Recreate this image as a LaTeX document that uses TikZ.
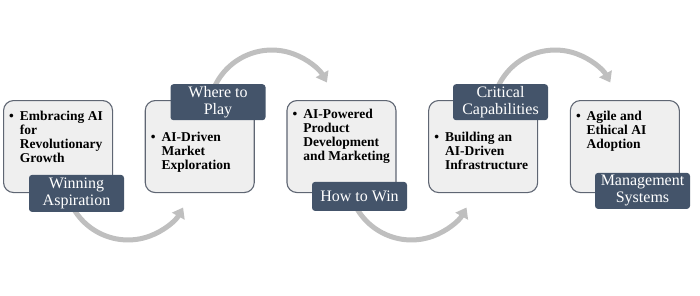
\documentclass[tikz,border=0pt]{standalone}
\usepackage{fontspec}
\setmainfont{Liberation Serif}
\usetikzlibrary{arrows.meta}
\definecolor{slate}{HTML}{44546A}
\definecolor{cardfill}{HTML}{EFEFEF}
\definecolor{cardline}{HTML}{5F6673}
\definecolor{arcgray}{HTML}{BFBFBF}
\newcommand{\pointlist}[1]{\textbullet\hspace{6pt}\parbox[t]{90pt}{\raggedright #1}}

\begin{document}
\begin{tikzpicture}[x=1pt, y=1pt,
    card/.style={draw=cardline, line width=1.1pt, fill=cardfill, rounded corners=10pt,
      minimum width=109pt, minimum height=92pt, anchor=north west, inner sep=0pt},
    tag/.style={fill=slate, text=white, rounded corners=3pt, minimum width=95pt,
      inner sep=0pt, align=center, font=\fontsize{16}{17}\selectfont},
    point/.style={anchor=base west, inner sep=0pt, font=\fontsize{13.5}{14.3}\selectfont\bfseries},
    flow/.style={arcgray, line width=5pt, -{Triangle[width=14pt,length=10pt]}}]
    \useasboundingbox (0,0) rectangle (700,295);
    % cards
    \node[card] (box1) at (3,195) {};
    \node[card] (box2) at (144.7,195) {};
    \node[card] (box3) at (286.4,195) {};
    \node[card] (box4) at (428.1,195) {};
    \node[card] (box5) at (569.8,195) {};
    % card texts
    \node[point] (txt1) at ([shift={(6,-20)}]box1.north west) {\pointlist{Embracing AI\\for\\Revolutionary\\Growth}};
    \node[point] (txt2) at ([shift={(6,-41)}]box2.north west) {\pointlist{AI-Driven\\Market\\Exploration}};
    \node[point] (txt3) at ([shift={(6,-18)}]box3.north west) {\pointlist{AI-Powered\\Product\\Development\\and Marketing}};
    \node[point] (txt4) at ([shift={(6,-41)}]box4.north west) {\pointlist{Building an\\AI-Driven\\Infrastructure}};
    \node[point] (txt5) at ([shift={(6,-20)}]box5.north west) {\pointlist{Agile and\\Ethical AI\\Adoption}};
    % arcs
    \draw[flow] ([shift={(65.8,-98.5)}]box1.north west) arc[start angle=200, end angle=331, radius=63];
    \draw[flow] ([shift={(67.9,8.5)}]box2.north west) arc[start angle=160, end angle=29, radius=63];
    \draw[flow] ([shift={(65.8,-98.5)}]box3.north west) arc[start angle=200, end angle=331, radius=63];
    \draw[flow] ([shift={(67.9,8.5)}]box4.north west) arc[start angle=160, end angle=29, radius=63];
    % tags
    \node[tag, minimum height=37pt, anchor=south] (lab1) at ([shift={(73.5,-19)}]box1.south west) {Winning\\Aspiration};
    \node[tag, minimum height=36pt, anchor=north] (lab2) at ([shift={(73.3,16)}]box2.north west) {Where to\\Play};
    \node[tag, minimum height=29pt, anchor=south] (lab3) at ([shift={(73.1,-18)}]box3.south west) {How to Win};
    \node[tag, minimum height=36pt, anchor=north] (lab4) at ([shift={(72.4,16)}]box4.north west) {Critical\\Capabilities};
    \node[tag, minimum height=36pt, anchor=south] (lab5) at ([shift={(72.7,-16)}]box5.south west) {Management\\Systems};
\end{tikzpicture}
\end{document}
